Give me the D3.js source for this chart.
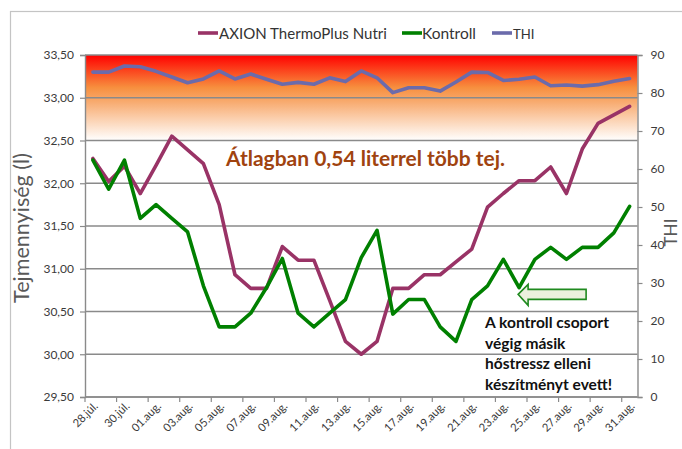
<!DOCTYPE html>
<html>
<head>
<meta charset="utf-8">
<script src="https://cdn.jsdelivr.net/npm/d3@7"></script>
<style>
  html, body { margin: 0; padding: 0; background: #ffffff; }
  svg { display: block; }
</style>
</head>
<body>
<svg id="chart" width="682" height="449"></svg>
<script>
const categories = ["28.júl.","29.júl.","30.júl.","31.júl.","01.aug.","02.aug.","03.aug.","04.aug.","05.aug.","06.aug.",
  "07.aug.","08.aug.","09.aug.","10.aug.","11.aug.","12.aug.","13.aug.","14.aug.","15.aug.","16.aug.",
  "17.aug.","18.aug.","19.aug.","20.aug.","21.aug.","22.aug.","23.aug.","24.aug.","25.aug.","26.aug.",
  "27.aug.","28.aug.","29.aug.","30.aug.","31.aug."];
const axion = [32.29,32.02,32.20,31.88,32.21,32.55,32.39,32.23,31.75,30.93,
  30.77,30.77,31.26,31.10,31.10,30.63,30.15,30.00,30.15,30.77,
  30.77,30.93,30.93,31.08,31.23,31.72,31.88,32.03,32.03,32.19,
  31.88,32.40,32.70,32.80,32.90];
const kontroll = [32.27,31.93,32.27,31.59,31.75,31.59,31.43,30.80,30.32,30.32,
  30.48,30.78,31.12,30.48,30.32,30.48,30.64,31.13,31.45,30.47,
  30.64,30.64,30.32,30.15,30.64,30.80,31.11,30.78,31.11,31.25,
  31.11,31.25,31.25,31.42,31.73];
const thi = [85.5,85.5,87.1,86.9,85.7,84.2,82.7,83.7,85.8,83.7,
  85.0,83.6,82.3,82.8,82.3,84.0,83.0,85.8,84.0,80.1,
  81.4,81.4,80.5,82.9,85.5,85.4,83.3,83.6,84.2,81.9,
  82.1,81.8,82.2,83.1,83.8];
const seriesNames = ["AXION ThermoPlus Nutri", "Kontroll", "THI"];
const leftTicks = [29.5,30.0,30.5,31.0,31.5,32.0,32.5,33.0,33.5];
const rightTicks = [0,10,20,30,40,50,60,70,80,90];
const heatBand = [32.5, 33.5];
const leftTitle = "Tejmennyiség (l)";
const rightTitle = "THI";
const mainNote = "Átlagban 0,54 literrel több tej.";
const sideNote = ["A kontroll csoport", "végig másik", "hőstressz elleni", "készítményt evett!"];

const FONT = "Lato, 'Open Sans', 'DejaVu Sans', sans-serif";
const colors = ["#993366", "#008000", "#6b6bab"];
const gridColor = "#8a8a8a";
const labelColor = "#3a3a3a";

const svg = d3.select("#chart");
const L = 85, R = 637.5, T = 55, B = 397;

const x = d3.scaleBand().domain(categories).range([L, R]).paddingInner(0).paddingOuter(0);
const cx = c => x(c) + x.bandwidth() / 2;
const yL = d3.scaleLinear().domain([29.5, 33.5]).range([B, T]);
const yR = d3.scaleLinear().domain([0, 90]).range([B, T]);

const loc = d3.formatLocale({decimal: ",", thousands: " ", grouping: [3], currency: ["", ""]});
const fmt2 = loc.format(".2f");

function fit(sel, target) {
  const w = sel.node().getComputedTextLength();
  const fs = parseFloat(sel.attr("font-size"));
  sel.attr("font-size", (fs * target / w).toFixed(2));
}

// outer chart border
svg.append("rect").attr("x", 10.5).attr("y", 11.5).attr("width", 700).attr("height", 500)
  .attr("fill", "none").attr("stroke", "#c4c4c4").attr("stroke-width", 1.2);

// gradient heat band
const defs = svg.append("defs");
const grad = defs.append("linearGradient").attr("id", "heat").attr("x1", 0).attr("y1", 0).attr("x2", 0).attr("y2", 1);
grad.append("stop").attr("offset", "0").attr("stop-color", "#ff0000");
grad.append("stop").attr("offset", "0.38").attr("stop-color", "#f78f3e");
grad.append("stop").attr("offset", "0.55").attr("stop-color", "#f8ab70");
grad.append("stop").attr("offset", "1").attr("stop-color", "#ffffff");
svg.append("rect").attr("x", L).attr("y", yL(heatBand[1])).attr("width", R - L)
  .attr("height", yL(heatBand[0]) - yL(heatBand[1])).attr("fill", "url(#heat)");

// gridlines
svg.append("g").selectAll("line").data(leftTicks).join("line")
  .attr("x1", L).attr("x2", R).attr("y1", d => yL(d)).attr("y2", d => yL(d))
  .attr("stroke", gridColor).attr("stroke-width", 1.4);

// left axis
const gl = svg.append("g").attr("transform", `translate(${L},0)`)
  .call(d3.axisLeft(yL).tickValues(leftTicks).tickFormat(fmt2).tickSize(5).tickPadding(6));
// right axis
const gr = svg.append("g").attr("transform", `translate(${R},0)`)
  .call(d3.axisRight(yR).tickValues(rightTicks).tickFormat(d3.format("d")).tickSize(5).tickPadding(8));
// bottom axis: ticks at category boundaries every 2
const bTicks = categories.filter((d, i) => i % 2 === 0);
const gb = svg.append("g").attr("transform", `translate(0,${B})`);
gb.append("line").attr("x1", L).attr("x2", R).attr("y1", 0).attr("y2", 0)
  .attr("stroke", gridColor).attr("stroke-width", 1.4);
gb.selectAll("line.tk").data(bTicks).join("line").attr("class", "tk")
  .attr("x1", d => x(d)).attr("x2", d => x(d)).attr("y1", 0).attr("y2", 5)
  .attr("stroke", gridColor).attr("stroke-width", 1.2);
gb.selectAll("text").data(bTicks).join("text")
  .attr("transform", d => `translate(${cx(d) + 3},${7}) rotate(-45)`)
  .attr("text-anchor", "end").attr("dy", "0.35em")
  .attr("font-family", FONT).attr("font-size", 11.3).attr("fill", labelColor)
  .text(d => d);

[gl, gr].forEach(g => {
  g.select(".domain").attr("stroke", gridColor).attr("stroke-width", 1.4);
  g.selectAll(".tick line").attr("stroke", gridColor).attr("stroke-width", 1.2);
  g.selectAll(".tick text").attr("font-family", FONT).attr("font-size", 12).attr("fill", labelColor);
});

// series lines
const series = [
  {vals: axion, scale: yL, color: colors[0]},
  {vals: kontroll, scale: yL, color: colors[1]},
  {vals: thi, scale: yR, color: colors[2]}
];
series.forEach(s => {
  const line = d3.line().x((d, i) => cx(categories[i])).y(d => s.scale(d));
  svg.append("path").datum(s.vals).attr("d", line)
    .attr("fill", "none").attr("stroke", s.color).attr("stroke-width", 3.6)
    .attr("stroke-linejoin", "round").attr("stroke-linecap", "round");
});

// legend
const legendPos = [[198, 219, 168], [402, 422, 54], [492, 513, 21.5]];
seriesNames.forEach((n, i) => {
  const [lx, tx, tw] = legendPos[i];
  svg.append("line").attr("x1", lx).attr("x2", lx + 20).attr("y1", 33).attr("y2", 33)
    .attr("stroke", colors[i]).attr("stroke-width", 3.6);
  const t = svg.append("text").attr("x", tx).attr("y", 38.5)
    .attr("font-family", FONT).attr("font-size", 14).attr("fill", "#333").text(n);
  fit(t, tw);
});

// axis titles
const lt = svg.append("text").attr("transform", "translate(29,228) rotate(-90)")
  .attr("text-anchor", "middle").attr("font-family", FONT).attr("font-size", 18)
  .attr("fill", "#595959").text(leftTitle);
fit(lt, 150);
const rt = svg.append("text").attr("transform", "translate(677,232.5) rotate(-90)")
  .attr("text-anchor", "middle").attr("font-family", FONT).attr("font-size", 18)
  .attr("fill", "#595959").text(rightTitle);
fit(rt, 28);

// main note
const mn = svg.append("text").attr("x", 226).attr("y", 166)
  .attr("font-family", FONT).attr("font-weight", "bold").attr("font-size", 20)
  .attr("fill", "#a0430f").text(mainNote);
fit(mn, 279);

// side note
const sn = svg.append("g");
const baselines = [328, 348.5, 369, 389.5];
let fs0 = null;
sideNote.forEach((s, i) => {
  const t = sn.append("text").attr("x", 485).attr("y", baselines[i])
    .attr("font-family", FONT).attr("font-weight", "bold").attr("font-size", 15)
    .attr("fill", "#111").text(s);
  if (i === 0) { fit(t, 124); fs0 = t.attr("font-size"); } else { t.attr("font-size", fs0); }
});

// arrow pointing at Kontroll dip
const ax = cx(categories[27]) - 1, ay = yL(30.70);
const arrow = [[ax, ay], [ax + 10, ay - 10], [ax + 10, ay - 5], [ax + 68, ay - 5],
  [ax + 68, ay + 5], [ax + 10, ay + 5], [ax + 10, ay + 11]];
svg.append("path").attr("d", d3.line()(arrow) + "Z")
  .attr("fill", "#ebf1de").attr("stroke", "#1f8a1f").attr("stroke-width", 1.6)
  .attr("stroke-linejoin", "miter");
</script>
</body>
</html>
